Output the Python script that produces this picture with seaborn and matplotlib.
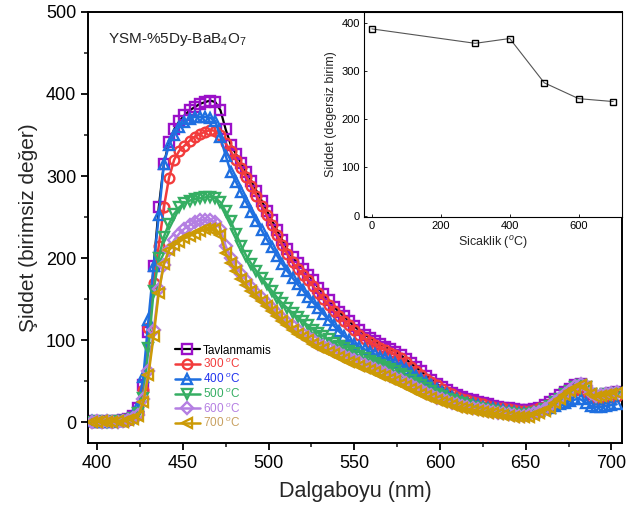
import numpy as np
import matplotlib
matplotlib.use("Agg")
import matplotlib.pyplot as plt
import seaborn as sns
from matplotlib.ticker import MultipleLocator

# ---------------- data ----------------
wavelength = np.arange(397, 704, 3)

tavlanmamis = [2, 1, 2, 1, 2, 2, 3, 4, 8, 18,
               45, 110, 190, 262, 315, 342, 357, 367, 374, 380,
               384, 388, 390, 392, 390, 380, 357, 338, 327, 316,
               305, 294, 282, 270, 258, 246, 234, 222, 211, 201,
               194, 187, 180, 173, 164, 156, 149, 141, 135, 129,
               123, 117, 112, 107, 103, 99, 95, 92, 89, 86,
               82, 77, 72, 67, 62, 57, 52, 47, 43, 39,
               36, 33, 31, 29, 27, 25, 23, 22, 20, 19,
               18, 17, 16, 15, 15, 15, 16, 18, 21, 25,
               29, 33, 37, 41, 45, 47, 43, 35, 31, 32,
               34, 36, 37]

c300 = [1, 2, 1, 2, 1, 2, 2, 3, 6, 12,
        40, 115, 170, 215, 262, 298, 320, 331, 337, 343,
        348, 351, 354, 356, 355, 350, 340, 330, 320, 310,
        299, 288, 276, 264, 252, 240, 228, 216, 205, 195,
        187, 180, 173, 166, 158, 150, 143, 136, 130, 124,
        118, 112, 107, 102, 98, 94, 91, 88, 85, 82,
        78, 73, 68, 63, 58, 53, 49, 45, 41, 37,
        34, 31, 29, 27, 25, 23, 22, 20, 19, 18,
        17, 16, 15, 14, 14, 14, 15, 17, 19, 22,
        26, 29, 33, 36, 39, 40, 37, 31, 28, 29,
        30, 31, 32]

c400 = [2, 1, 1, 2, 1, 2, 2, 4, 9, 20,
        55, 125, 190, 252, 315, 338, 350, 360, 366, 370,
        372, 372, 372, 371, 367, 347, 325, 305, 293, 280,
        268, 256, 245, 234, 223, 213, 203, 193, 184, 176,
        168, 161, 153, 146, 139, 132, 125, 118, 111, 105,
        100, 96, 92, 89, 86, 83, 80, 78, 75, 72,
        69, 65, 61, 57, 53, 49, 45, 41, 37, 34,
        31, 28, 26, 24, 22, 21, 19, 18, 17, 16,
        15, 14, 13, 12, 12, 12, 13, 14, 16, 18,
        20, 22, 24, 26, 28, 28, 24, 20, 19, 19,
        20, 21, 22]

c500 = [1, 2, 1, 1, 2, 1, 2, 3, 5, 12,
        30, 90, 160, 200, 226, 242, 254, 262, 267, 270,
        272, 273, 274, 275, 273, 268, 257, 245, 230, 215,
        203, 193, 184, 176, 168, 160, 152, 145, 139, 133,
        128, 123, 118, 113, 109, 105, 101, 97, 93, 90,
        87, 84, 81, 78, 75, 72, 70, 67, 65, 62,
        59, 56, 52, 48, 45, 42, 38, 35, 32, 29,
        27, 25, 23, 21, 19, 18, 16, 15, 14, 13,
        12, 11, 10, 9, 9, 10, 11, 13, 16, 20,
        25, 29, 34, 38, 43, 46, 43, 35, 31, 32,
        34, 35, 36]

c600 = [1, 2, 1, 2, 1, 1, 2, 3, 5, 9,
        28, 62, 112, 162, 192, 210, 222, 230, 236, 240,
        244, 246, 247, 246, 244, 236, 215, 200, 190, 181,
        173, 165, 158, 151, 145, 139, 133, 127, 122, 117,
        112, 108, 104, 100, 96, 93, 90, 87, 84, 81,
        78, 76, 73, 70, 68, 65, 62, 60, 57, 54,
        51, 48, 45, 42, 39, 36, 33, 30, 28, 26,
        24, 22, 20, 19, 17, 16, 15, 14, 13, 12,
        11, 10, 9, 8, 8, 9, 11, 13, 16, 20,
        25, 30, 35, 40, 44, 47, 44, 36, 32, 33,
        35, 36, 37]

c700 = [1, 1, 2, 1, 1, 2, 1, 3, 4, 8,
        25, 58, 105, 158, 193, 210, 216, 220, 224, 227,
        230, 233, 235, 236, 236, 228, 206, 194, 184, 175,
        167, 160, 154, 148, 142, 136, 130, 124, 118, 113,
        108, 104, 100, 96, 92, 89, 86, 83, 80, 77,
        74, 72, 69, 66, 64, 61, 58, 56, 53, 50,
        47, 44, 41, 38, 35, 32, 30, 27, 25, 23,
        21, 19, 18, 16, 15, 14, 13, 12, 11, 10,
        9, 8, 7, 6, 6, 7, 9, 11, 14, 18,
        23, 28, 33, 38, 42, 45, 43, 35, 31, 32,
        33, 35, 36]

series_labels = ["Tavlanmamis", "300 $^{o}$C", "400 $^{o}$C",
                 "500 $^{o}$C", "600 $^{o}$C", "700 $^{o}$C"]

inset_temp = [0, 300, 400, 500, 600, 700]
inset_intensity = [388, 358, 368, 276, 243, 237]

# ---------------- style ----------------
sns.set_theme(style="ticks")
plt.rcParams['font.family'] = ['Liberation Sans', 'DejaVu Sans']
plt.rcParams['mathtext.fontset'] = 'custom'
plt.rcParams['mathtext.rm'] = 'Liberation Sans'
plt.rcParams['mathtext.it'] = 'Liberation Sans:italic'

marker_colors = ['#9B10C8', '#F23C3C', '#1F6FE0', '#35AE63', '#B47FE2', '#CC9A06']
line_colors = ['black', '#F23C3C', '#1F6FE0', '#35AE63', '#B47FE2', '#CC9A06']
text_colors = ['black', '#F23C3C', '#2233EE', '#35AE63', '#B47FE2', '#C8A060']
markers = ['s', 'o', '^', 'v', 'D', '<']
msizes = [7, 7, 7.5, 7.5, 6, 7.5]

fig = plt.figure(figsize=(6.43, 5.15), dpi=100)
ax = fig.add_axes([0.137, 0.140, 0.830, 0.837])

all_series = [tavlanmamis, c300, c400, c500, c600, c700]
for i, (vals, lab) in enumerate(zip(all_series, series_labels)):
    sns.lineplot(x=wavelength, y=vals, ax=ax, errorbar=None,
                 color=line_colors[i], linewidth=1.8 if i else 1.6,
                 marker=markers[i], markersize=msizes[i],
                 markerfacecolor='none', markeredgecolor=marker_colors[i],
                 markeredgewidth=1.7, label=lab, zorder=2 + i)

ax.set_xlim(394.8, 706)
ax.set_ylim(-25, 500)
ax.xaxis.set_major_locator(MultipleLocator(50))
ax.xaxis.set_minor_locator(MultipleLocator(25))
ax.yaxis.set_major_locator(MultipleLocator(100))
ax.yaxis.set_minor_locator(MultipleLocator(50))
ax.tick_params(which='major', direction='out', length=5, width=1.3,
               labelsize=13, colors='black')
ax.tick_params(which='minor', direction='out', length=3, width=1.2)
for sp in ax.spines.values():
    sp.set_visible(True)
    sp.set_linewidth(1.4)
    sp.set_color('black')
ax.set_xlabel("Dalgaboyu (nm)", fontsize=15.5, labelpad=7)
ax.set_ylabel("Şiddet (birimsiz değer)", fontsize=15, labelpad=6)

ax.text(0.037, 0.935, "YSM-%5Dy-BaB$_4$O$_7$", transform=ax.transAxes,
        fontsize=11, va='center', ha='left', color='#222222')

handles = ax.get_lines()[:6]
leg = ax.legend(handles, series_labels, loc='upper left',
                bbox_to_anchor=(0.163, 0.228), frameon=False, fontsize=8.5,
                handlelength=2.1, handletextpad=0.25, labelspacing=0.08,
                borderpad=0, borderaxespad=0, labelcolor=text_colors)

# ---------------- inset ----------------
axin = fig.add_axes([0.566, 0.5786, 0.401, 0.398])
axin.set_facecolor('white')
sns.lineplot(x=inset_temp, y=inset_intensity, ax=axin, errorbar=None,
             color='#555555', linewidth=0.8, marker='s', markersize=5,
             markerfacecolor='none', markeredgecolor='black',
             markeredgewidth=1.0)
axin.set_xlim(-23, 725)
axin.set_ylim(-3, 423)
axin.xaxis.set_major_locator(MultipleLocator(200))
axin.yaxis.set_major_locator(MultipleLocator(100))
axin.tick_params(which='major', direction='in', length=2, width=0.6,
                 labelsize=8, colors='black', pad=3)
for sp in axin.spines.values():
    sp.set_linewidth(0.8)
    sp.set_color('black')
axin.set_xlabel("Sicaklik ($^{o}$C)", fontsize=9, labelpad=2)
axin.set_ylabel("Siddet (degersiz birim)", fontsize=9, labelpad=3)

fig.savefig("out.png", dpi=100)
